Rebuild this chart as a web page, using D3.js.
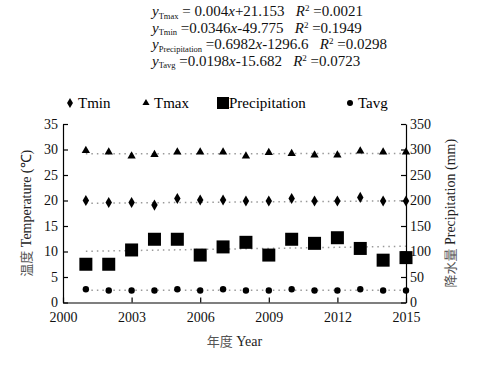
<!DOCTYPE html>
<html>
<head>
<meta charset="utf-8">
<script src="https://cdn.jsdelivr.net/npm/d3@7"></script>
<style>
  body { margin: 0; background: #fff; }
  svg text { font-family: "Liberation Serif", "Times New Roman", "DejaVu Serif", serif; }
</style>
</head>
<body>
<div id="chart"></div>
<script>
// data
const years = [2001, 2002, 2003, 2004, 2005, 2006, 2007, 2008, 2009, 2010, 2011, 2012, 2013, 2014, 2015];
const tmax = [29.8, 29.5, 28.7, 29.0, 29.5, 29.5, 29.5, 28.7, 29.4, 29.2, 28.9, 28.9, 29.7, 29.5, 29.5];
const tmin = [20.0, 19.6, 19.6, 19.1, 20.4, 20.1, 20.1, 19.9, 19.9, 20.4, 19.9, 19.9, 20.6, 19.9, 19.9];
const precip = [75, 75, 103, 124, 124, 93, 109, 118, 93, 124, 116, 127, 106, 83, 88];
const tavg = [26, 23.5, 23.5, 23.5, 26, 23.5, 26, 23.5, 23.5, 26, 23.5, 23.5, 26, 23.5, 23.5];

// linear fits printed on the chart
const fitNames = ["Tmax", "Tmin", "Precipitation", "Tavg"];
const fitSlope = [0.004, 0.0346, 0.6982, 0.0198];
const fitIntercept = [21.153, -49.775, -1296.6, -15.682];
const fitR2 = ["0.0021", "0.1949", "0.0298", "0.0723"];
const fitAxis = ["T", "T", "P", "P"];

const xTicks = [2000, 2003, 2006, 2009, 2012, 2015];
const tTicks = [0, 5, 10, 15, 20, 25, 30, 35];
const pTicks = [0, 50, 100, 150, 200, 250, 300, 350];

const serif = '"Liberation Serif", "Times New Roman", serif';
const W = 484, H = 374;
const margin = {top: 124, right: 78, bottom: 71.5, left: 63},
    width = W - margin.left - margin.right,
    height = H - margin.top - margin.bottom;

const svg = d3.select("#chart").append("svg")
    .attr("width", W).attr("height", H);

const g = svg.append("g")
    .attr("transform", "translate(" + margin.left + "," + margin.top + ")");

const x = d3.scaleLinear().domain([2000, 2015]).range([0, width]);
const yT = d3.scaleLinear().domain([0, 35]).range([height, 0]);
const yP = d3.scaleLinear().domain([0, 350]).range([height, 0]);

// axes, ticks pointing inward
g.append("g")
    .attr("transform", "translate(0," + height + ")")
    .call(d3.axisBottom(x).tickValues(xTicks).tickFormat(d3.format("d"))
      .tickSizeInner(-5).tickSizeOuter(0).tickPadding(10));
g.append("g")
    .call(d3.axisLeft(yT).tickValues(tTicks).tickSizeInner(-5).tickSizeOuter(0).tickPadding(5));
g.append("g")
    .attr("transform", "translate(" + width + ",0)")
    .call(d3.axisRight(yP).tickValues(pTicks).tickSizeInner(-5).tickSizeOuter(0).tickPadding(4));

g.selectAll(".domain").attr("stroke", "#000").attr("stroke-width", 1.2);
g.selectAll(".tick line").attr("stroke", "#000").attr("stroke-width", 1.2);
g.selectAll(".tick text")
    .style("font-family", serif).style("font-size", "14px").attr("fill", "#111");

// trend lines (dotted)
fitNames.forEach(function (name, i) {
  const ys = fitAxis[i] === "T" ? yT : yP;
  const ends = [years[0], years[years.length - 1]];
  g.append("line")
    .attr("x1", x(ends[0])).attr("x2", x(ends[1]))
    .attr("y1", ys(fitSlope[i] * ends[0] + fitIntercept[i]))
    .attr("y2", ys(fitSlope[i] * ends[1] + fitIntercept[i]))
    .attr("stroke", "#999")
    .attr("stroke-width", 1.5)
    .attr("stroke-dasharray", "1.5,4");
});

// Tmax triangles
g.append("g").selectAll("path")
  .data(years).enter().append("path")
    .attr("transform", function (d, i) { return "translate(" + x(d) + "," + yT(tmax[i]) + ")"; })
    .attr("d", d3.symbol().type(d3.symbolTriangle).size(30))
    .attr("fill", "#000");

// Tmin diamonds
g.append("g").selectAll("path")
  .data(years).enter().append("path")
    .attr("transform", function (d, i) { return "translate(" + x(d) + "," + yT(tmin[i]) + ")"; })
    .attr("d", d3.symbol().type(d3.symbolDiamond).size(36))
    .attr("fill", "#000");

// Precipitation squares
g.append("g").selectAll("rect")
  .data(years).enter().append("rect")
    .attr("x", function (d) { return x(d) - 6.5; })
    .attr("y", function (d, i) { return yP(precip[i]) - 6.5; })
    .attr("width", 13).attr("height", 13)
    .attr("fill", "#000");

// Tavg circles
g.append("g").selectAll("circle")
  .data(years).enter().append("circle")
    .attr("cx", function (d) { return x(d); })
    .attr("cy", function (d, i) { return yP(tavg[i]); })
    .attr("r", 3.2)
    .attr("fill", "#000");

// axis titles
function axisTitle(sel, cjk, en) {
  sel.append("tspan").style("font-family", '"Noto Sans CJK SC", sans-serif').style("font-size", "13px").attr("fill", "#555").text(cjk);
  sel.append("tspan").style("font-family", serif).text(" " + en);
}
axisTitle(svg.append("text")
  .attr("x", margin.left + width / 2).attr("y", 346)
  .attr("text-anchor", "middle")
  .style("font-size", "14px").attr("fill", "#222"), "年度", "Year");

axisTitle(svg.append("text")
  .attr("transform", "translate(31," + (margin.top + height / 2) + ") rotate(-90)")
  .attr("text-anchor", "middle")
  .style("font-size", "14px").attr("fill", "#222"), "温度", "Temperature (℃)");

axisTitle(svg.append("text")
  .attr("transform", "translate(455," + (margin.top + height / 2) + ") rotate(-90)")
  .attr("text-anchor", "middle")
  .style("font-size", "14px").attr("fill", "#222"), "降水量", "Precipitation (mm)");

// legend
const legend = svg.append("g").attr("transform", "translate(0,103)");
legend.append("path").attr("transform", "translate(70,0)")
  .attr("d", d3.symbol().type(d3.symbolDiamond).size(30)).attr("fill", "#000");
legend.append("path").attr("transform", "translate(146,0)")
  .attr("d", d3.symbol().type(d3.symbolTriangle).size(22)).attr("fill", "#000");
legend.append("rect").attr("x", 217).attr("y", -6).attr("width", 12).attr("height", 12).attr("fill", "#000");
legend.append("circle").attr("cx", 350).attr("cy", 0).attr("r", 3).attr("fill", "#000");
[["Tmin", 78], ["Tmax", 154], ["Precipitation", 229], ["Tavg", 358]].forEach(function (d) {
  legend.append("text").attr("x", d[1]).attr("y", 5)
    .style("font-family", serif).style("font-size", "15px").attr("fill", "#000").text(d[0]);
});

// regression equations
function fmtIntercept(v) { return (v >= 0 ? "+" : "") + v; }
const eq = svg.append("g");
fitNames.forEach(function (name, i) {
  const t = eq.append("text")
    .attr("x", 152).attr("y", 16 + i * 16.5)
    .style("font-family", serif).style("font-size", "15px").attr("fill", "#111");
  t.append("tspan").attr("font-style", "italic").text("y");
  t.append("tspan").style("font-size", "8.5px").attr("dy", 2.5).text(name);
  t.append("tspan").attr("dy", -2.5).text((i === 0 ? " = " : " =") + fitSlope[i]);
  t.append("tspan").attr("font-style", "italic").text("x");
  t.append("tspan").text(fmtIntercept(fitIntercept[i]) + "\u00a0\u00a0\u00a0");
  t.append("tspan").attr("font-style", "italic").text("R");
  t.append("tspan").style("font-size", "9px").attr("dy", -5).text("2");
  t.append("tspan").attr("dy", 5).text(" =" + fitR2[i]);
});
</script>
</body>
</html>
